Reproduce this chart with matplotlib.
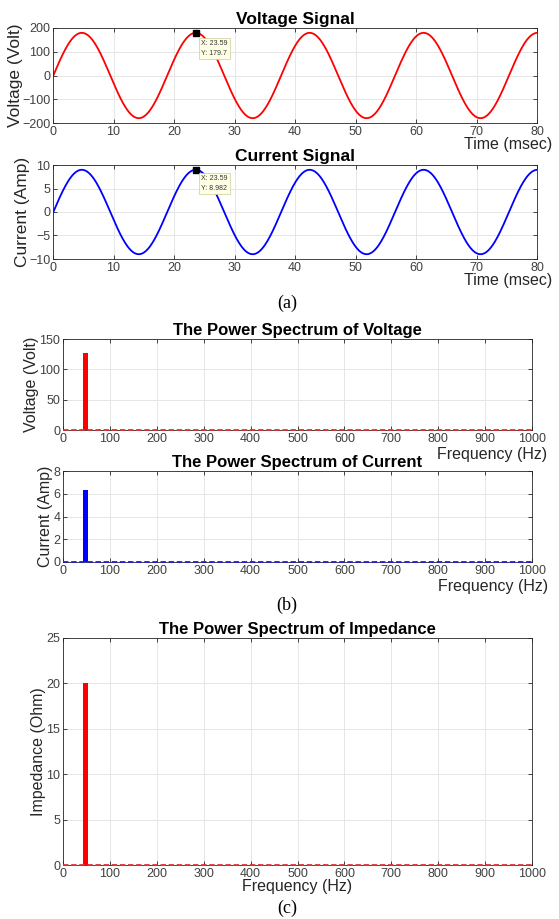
import numpy as np
import matplotlib.pyplot as plt

plt.rcParams['font.family'] = ['Liberation Sans', 'DejaVu Sans']

# signal parameters
amp_v = 179.7        # Volt
amp_i = 8.982        # Amp
period_ms = 18.83    # peak to peak spacing
t_peak = 23.59       # datatip position

# spectrum values
f_bar = 48
v_rms = 127.0
i_rms = 6.35
z_mag = 20.0

t = np.linspace(0, 80, 1601)
v = amp_v * np.sin(2 * np.pi * (t - t_peak) / period_ms + np.pi / 2)
cur = amp_i * np.sin(2 * np.pi * (t - t_peak) / period_ms + np.pi / 2)

W, H = 559, 919
fig = plt.figure(figsize=(W / 100, H / 100), dpi=100)

def box(l, r, top, bot):
    return [l / W, 1 - bot / H, (r - l) / W, (bot - top) / H]

def style(ax):
    ax.grid(True, color='#e6e6e6', lw=0.7)
    ax.set_axisbelow(True)
    for s in ax.spines.values():
        s.set_color('#262626')
        s.set_linewidth(0.6)
    ax.tick_params(direction='in', top=True, right=True, length=3,
                   width=0.6, colors='#262626', labelcolor='#404040',
                   labelsize=9, pad=2)

def xlab(text, x, y, ha='right'):
    fig.text(x / W, 1 - y / H, text, ha=ha, va='center', fontsize=11.5,
             color='#262626')

def datatip(ax, x, y, txt, px, py):
    ax.plot([x], [y], 's', color='k', ms=4, zorder=5)
    fig.text(px / W, 1 - py / H, txt, fontsize=5, va='top', ha='left',
             color='#333333', linespacing=1.6,
             bbox=dict(boxstyle='square,pad=0.35', fc='#ffffe6', ec='#cccc99', lw=0.5))

def zero_line(ax, color):
    ax.plot([0, 1000], [0, 0], '--', color=color, lw=1.3, dashes=(3, 1.5),
            zorder=4, clip_on=False)

# (a) voltage signal
ax1 = fig.add_axes(box(53, 537, 28, 123))
ax1.plot(t, v, color='red', lw=1.3)
ax1.set_xlim(0, 80)
ax1.set_ylim(-200, 200)
ax1.set_xticks(range(0, 81, 10))
ax1.set_yticks([-200, -100, 0, 100, 200])
style(ax1)
ax1.set_title('Voltage Signal', fontsize=12.5, fontweight='bold', pad=3)
ax1.set_ylabel('Voltage (Volt)', fontsize=12.5, color='#262626', labelpad=-1)
xlab('Time (msec)', 552, 145)
datatip(ax1, t_peak, amp_v, 'X: 23.59\nY: 179.7', 201, 40)

# (a) current signal
ax2 = fig.add_axes(box(53, 537, 165, 259))
ax2.plot(t, cur, color='blue', lw=1.3)
ax2.set_xlim(0, 80)
ax2.set_ylim(-10, 10)
ax2.set_xticks(range(0, 81, 10))
ax2.set_yticks([-10, -5, 0, 5, 10])
style(ax2)
ax2.set_title('Current Signal', fontsize=12.5, fontweight='bold', pad=3)
ax2.set_ylabel('Current (Amp)', fontsize=12.5, color='#262626', labelpad=-1)
xlab('Time (msec)', 552, 281)
datatip(ax2, t_peak, amp_i, 'X: 23.59\nY: 8.982', 201, 175)

fig.text(287 / W, 1 - 303 / H, '(a)', family=['Liberation Serif', 'DejaVu Serif'],
         fontsize=13, ha='center', va='center')

# (b) voltage spectrum
ax3 = fig.add_axes(box(63, 532, 339, 430))
ax3.bar([f_bar], [v_rms], width=12, color='red')
zero_line(ax3, '#e03030')
ax3.set_xlim(0, 1000)
ax3.set_ylim(0, 150)
ax3.set_xticks(range(0, 1001, 100))
ax3.set_yticks([0, 50, 100, 150])
style(ax3)
ax3.set_title('The Power Spectrum of Voltage', fontsize=12, fontweight='bold', pad=3)
ax3.set_ylabel('Voltage (Volt)', fontsize=11.5, color='#262626', labelpad=0)
xlab('Frequency (Hz)', 547, 455)

# (b) current spectrum
ax4 = fig.add_axes(box(63, 532, 471, 562))
ax4.bar([f_bar], [i_rms], width=12, color='blue')
zero_line(ax4, '#2020d0')
ax4.set_xlim(0, 1000)
ax4.set_ylim(0, 8)
ax4.set_xticks(range(0, 1001, 100))
ax4.set_yticks([0, 2, 4, 6, 8])
style(ax4)
ax4.set_title('The Power Spectrum of Current', fontsize=12, fontweight='bold', pad=3)
ax4.set_ylabel('Current (Amp)', fontsize=11.5, color='#262626', labelpad=0)
xlab('Frequency (Hz)', 548, 587)

fig.text(287 / W, 1 - 605 / H, '(b)', family=['Liberation Serif', 'DejaVu Serif'],
         fontsize=13, ha='center', va='center')

# (c) impedance spectrum
ax5 = fig.add_axes(box(63, 532, 638, 865))
ax5.bar([f_bar], [z_mag], width=12, color='red')
zero_line(ax5, '#e03030')
ax5.set_xlim(0, 1000)
ax5.set_ylim(0, 25)
ax5.set_xticks(range(0, 1001, 100))
ax5.set_yticks([0, 5, 10, 15, 20, 25])
style(ax5)
ax5.set_title('The Power Spectrum of Impedance', fontsize=12, fontweight='bold', pad=3)
ax5.set_ylabel('Impedance (Ohm)', fontsize=11.5, color='#262626', labelpad=0)
xlab('Frequency (Hz)', 297, 886, ha='center')

fig.text(287 / W, 1 - 908 / H, '(c)', family=['Liberation Serif', 'DejaVu Serif'],
         fontsize=13, ha='center', va='center')

fig.savefig('out.png', dpi=100)
